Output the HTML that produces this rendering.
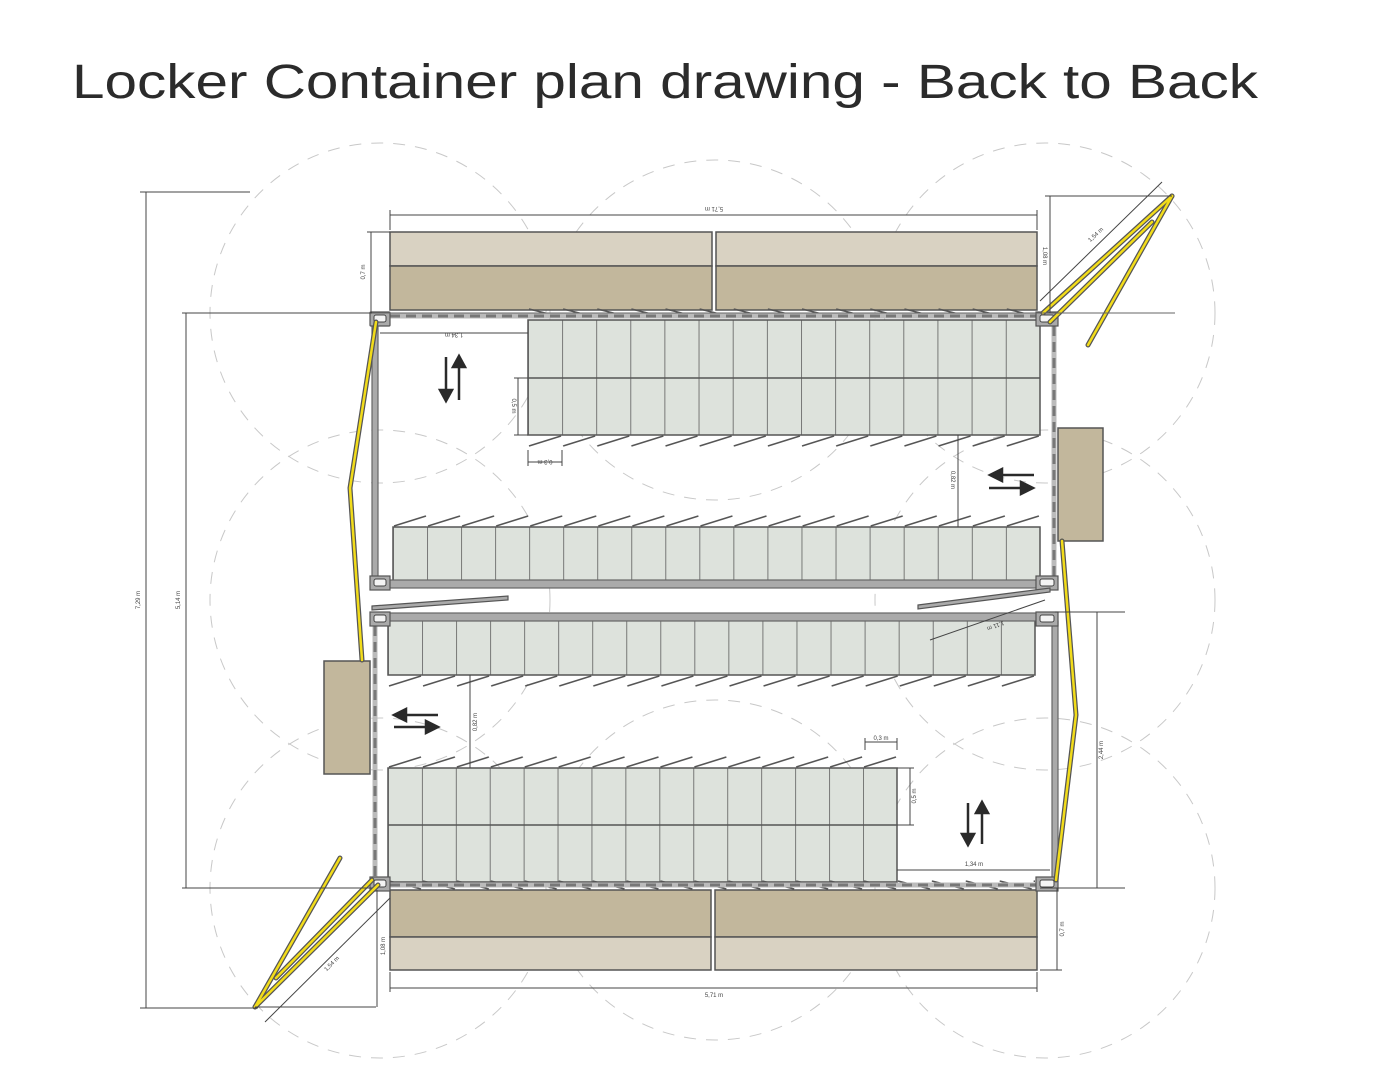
<!DOCTYPE html>
<html><head><meta charset="utf-8"><style>
html,body{margin:0;padding:0;background:#fff;width:1389px;height:1090px;overflow:hidden}
svg{display:block}
</style></head><body>
<svg width="1389" height="1090" viewBox="0 0 1389 1090" xmlns="http://www.w3.org/2000/svg">
<defs>
<pattern id="cellA" patternUnits="userSpaceOnUse" x="528" y="0" width="34.13" height="1090"><line x1="0" y1="0" x2="0" y2="1090" stroke="#555" stroke-width="1.5"/></pattern>
<pattern id="cellB" patternUnits="userSpaceOnUse" x="393" y="0" width="34.05" height="1090"><line x1="0" y1="0" x2="0" y2="1090" stroke="#555" stroke-width="1.5"/></pattern>
<pattern id="cellC" patternUnits="userSpaceOnUse" x="388" y="0" width="34.05" height="1090"><line x1="0" y1="0" x2="0" y2="1090" stroke="#555" stroke-width="1.5"/></pattern>
<pattern id="cellD" patternUnits="userSpaceOnUse" x="388" y="0" width="33.93" height="1090"><line x1="0" y1="0" x2="0" y2="1090" stroke="#555" stroke-width="1.5"/></pattern>
<pattern id="doorDn" patternUnits="userSpaceOnUse" x="528" y="435" width="34.13" height="12"><line x1="1" y1="11" x2="33" y2="1" stroke="#555" stroke-width="1.5"/></pattern>
<pattern id="doorUp" patternUnits="userSpaceOnUse" x="393" y="515" width="34.05" height="12"><line x1="1" y1="11" x2="33" y2="1" stroke="#555" stroke-width="1.5"/></pattern>
<pattern id="doorDn2" patternUnits="userSpaceOnUse" x="388" y="675" width="34.05" height="12"><line x1="1" y1="11" x2="33" y2="1" stroke="#555" stroke-width="1.5"/></pattern>
<pattern id="doorUp2" patternUnits="userSpaceOnUse" x="388" y="756" width="33.93" height="12"><line x1="1" y1="11" x2="33" y2="1" stroke="#555" stroke-width="1.5"/></pattern>
<pattern id="doorT" patternUnits="userSpaceOnUse" x="528" y="308" width="34.13" height="12"><line x1="1" y1="1" x2="33" y2="9" stroke="#555" stroke-width="1.5"/></pattern>
<pattern id="doorB" patternUnits="userSpaceOnUse" x="388" y="880" width="33.93" height="12"><line x1="1" y1="1" x2="33" y2="9" stroke="#555" stroke-width="1.5"/></pattern>
</defs>

<text x="72" y="98" font-family="Liberation Sans, sans-serif" font-size="48" fill="#2b2b2b" textLength="1186" lengthAdjust="spacingAndGlyphs">Locker Container plan drawing - Back to Back</text>

<!-- dashed circles -->
<g fill="none" stroke="#c8c8c8" stroke-width="1" stroke-dasharray="12 10">
<circle cx="380" cy="313" r="170"/>
<circle cx="1045" cy="313" r="170"/>
<circle cx="380" cy="888" r="170"/>
<circle cx="1045" cy="888" r="170"/>
<circle cx="380" cy="600" r="170"/>
<circle cx="1045" cy="600" r="170"/>
<circle cx="715" cy="330" r="170"/>
<circle cx="715" cy="870" r="170"/>
</g>

<!-- benches -->
<g stroke="#555" stroke-width="1.5">
<rect x="390" y="232" width="322" height="34" fill="#d9d2c2"/>
<rect x="390" y="266" width="322" height="44" fill="#c2b79c"/>
<rect x="716" y="232" width="321" height="34" fill="#d9d2c2"/>
<rect x="716" y="266" width="321" height="44" fill="#c2b79c"/>
<rect x="390" y="890" width="321" height="47" fill="#c2b79c"/>
<rect x="390" y="937" width="321" height="33" fill="#d9d2c2"/>
<rect x="715" y="890" width="322" height="47" fill="#c2b79c"/>
<rect x="715" y="937" width="322" height="33" fill="#d9d2c2"/>
<rect x="1058" y="428" width="45" height="113" fill="#c2b79c"/>
<rect x="324" y="661" width="46" height="113" fill="#c2b79c"/>
</g>

<!-- lockers -->
<rect x="528" y="320" width="512" height="115" fill="#dde2dc"/><rect x="528" y="320" width="512" height="115" fill="url(#cellA)"/>
<rect x="528" y="320" width="512" height="115" fill="none" stroke="#555" stroke-width="1.5"/><line x1="528" y1="378" x2="1040" y2="378" stroke="#555" stroke-width="1.5"/>
<rect x="528" y="435" width="512" height="12" fill="url(#doorDn)"/>
<rect x="528" y="308" width="512" height="12" fill="url(#doorT)"/>

<rect x="393" y="527" width="647" height="56" fill="#dde2dc"/><rect x="393" y="527" width="647" height="56" fill="url(#cellB)"/>
<rect x="393" y="527" width="647" height="56" fill="none" stroke="#555" stroke-width="1.5"/>
<rect x="393" y="515" width="647" height="12" fill="url(#doorUp)"/>

<rect x="388" y="618" width="647" height="57" fill="#dde2dc"/><rect x="388" y="618" width="647" height="57" fill="url(#cellC)"/>
<rect x="388" y="618" width="647" height="57" fill="none" stroke="#555" stroke-width="1.5"/>
<rect x="388" y="675" width="647" height="12" fill="url(#doorDn2)"/>

<rect x="388" y="768" width="509" height="114" fill="#dde2dc"/><rect x="388" y="768" width="509" height="114" fill="url(#cellD)"/>
<rect x="388" y="768" width="509" height="114" fill="none" stroke="#555" stroke-width="1.5"/><line x1="388" y1="825" x2="897" y2="825" stroke="#555" stroke-width="1.5"/>
<rect x="388" y="756" width="509" height="12" fill="url(#doorUp2)"/>
<rect x="388" y="880" width="647" height="12" fill="url(#doorB)"/>

<!-- container walls -->
<g stroke="#666" stroke-width="1.2">
<rect x="372" y="580" width="680" height="8" fill="#aaa"/>
<rect x="372" y="613" width="680" height="8" fill="#aaa"/>
<rect x="372" y="322" width="6" height="260" fill="#aaa"/>
<rect x="1052" y="621" width="6" height="258" fill="#aaa"/>
</g>
<g fill="none" stroke-width="5">
<line x1="390" y1="316" x2="1040" y2="316" stroke="#bbb"/>
<line x1="390" y1="316" x2="1040" y2="316" stroke="#777" stroke-dasharray="10 6" stroke-width="3"/>
<line x1="1054" y1="326" x2="1054" y2="578" stroke="#bbb"/>
<line x1="1054" y1="326" x2="1054" y2="578" stroke="#777" stroke-dasharray="10 6" stroke-width="3"/>
<line x1="390" y1="885" x2="1040" y2="885" stroke="#bbb"/>
<line x1="390" y1="885" x2="1040" y2="885" stroke="#777" stroke-dasharray="10 6" stroke-width="3"/>
<line x1="375" y1="626" x2="375" y2="878" stroke="#bbb"/>
<line x1="375" y1="626" x2="375" y2="878" stroke="#777" stroke-dasharray="10 6" stroke-width="3"/>
</g>
<!-- corner castings -->
<g fill="#aaa" stroke="#555" stroke-width="1.2">
<rect x="370" y="312" width="20" height="14" rx="1"/><rect x="1036" y="312" width="22" height="14"/>
<rect x="370" y="576" width="20" height="14"/><rect x="1036" y="576" width="22" height="14"/>
<rect x="370" y="612" width="20" height="14"/><rect x="1036" y="612" width="22" height="14"/>
<rect x="370" y="877" width="20" height="14"/><rect x="1036" y="877" width="22" height="14"/>
</g>
<g fill="#f4f4f4" stroke="#444" stroke-width="1">
<rect x="374" y="315" width="12" height="7" rx="2"/><rect x="1040" y="315" width="14" height="7" rx="2"/>
<rect x="374" y="579" width="12" height="7" rx="2"/><rect x="1040" y="579" width="14" height="7" rx="2"/>
<rect x="374" y="615" width="12" height="7" rx="2"/><rect x="1040" y="615" width="14" height="7" rx="2"/>
<rect x="374" y="880" width="12" height="7" rx="2"/><rect x="1040" y="880" width="14" height="7" rx="2"/>
</g>
<!-- slanted door panels between containers -->
<g stroke="#555" stroke-width="1.2" fill="#aaa">
<polygon points="372,606 508,596 508,600 372,610"/>
<polygon points="918,605 1050,588 1050,592 918,609"/>
</g>

<!-- yellow fences -->
<g fill="none" stroke-linecap="round">
<g stroke="#555" stroke-width="5">
<polyline points="376,322 350,488 362,660"/>
<polyline points="1062,541 1076,715 1056,880"/>
<line x1="1043" y1="313" x2="1172" y2="196"/><line x1="1050" y1="322" x2="1152" y2="222"/><line x1="1172" y1="196" x2="1088" y2="345"/>
<line x1="378" y1="885" x2="255" y2="1007"/><line x1="372" y1="880" x2="276" y2="978"/><line x1="255" y1="1007" x2="340" y2="858"/>
</g>
<g stroke="#f2dc1a" stroke-width="2.5">
<polyline points="376,322 350,488 362,660"/>
<polyline points="1062,541 1076,715 1056,880"/>
<line x1="1043" y1="313" x2="1172" y2="196"/><line x1="1050" y1="322" x2="1152" y2="222"/><line x1="1172" y1="196" x2="1088" y2="345"/>
<line x1="378" y1="885" x2="255" y2="1007"/><line x1="372" y1="880" x2="276" y2="978"/><line x1="255" y1="1007" x2="340" y2="858"/>
</g>
</g>

<!-- dimension lines -->
<g stroke="#444" stroke-width="1" fill="none">
<line x1="140" y1="192" x2="250" y2="192"/><line x1="140" y1="1008" x2="258" y2="1008"/>
<line x1="146" y1="192" x2="146" y2="1008"/>
<line x1="182" y1="313" x2="372" y2="313"/><line x1="182" y1="888" x2="372" y2="888"/>
<line x1="186" y1="313" x2="186" y2="888"/>
<line x1="372" y1="313" x2="1175" y2="313" stroke="#666"/>
<line x1="252" y1="888" x2="372" y2="888"/><line x1="1040" y1="888" x2="1125" y2="888"/>
<line x1="390" y1="210" x2="390" y2="230"/><line x1="1037" y1="210" x2="1037" y2="230"/>
<line x1="390" y1="215" x2="1037" y2="215"/>
<line x1="390" y1="972" x2="390" y2="992"/><line x1="1037" y1="972" x2="1037" y2="992"/>
<line x1="390" y1="988" x2="1037" y2="988"/>
<line x1="367" y1="232" x2="390" y2="232"/><line x1="371" y1="232" x2="371" y2="313"/>
<line x1="1040" y1="970" x2="1062" y2="970"/><line x1="1057" y1="888" x2="1057" y2="970"/>
<line x1="1045" y1="196" x2="1172" y2="196"/><line x1="1050" y1="196" x2="1050" y2="313"/>
<line x1="1040" y1="301" x2="1162" y2="182"/>
<line x1="376" y1="1007" x2="255" y2="1007"/><line x1="377" y1="890" x2="377" y2="1007"/>
<line x1="265" y1="1022" x2="390" y2="898"/>
<line x1="1055" y1="612" x2="1125" y2="612"/><line x1="1097" y1="612" x2="1097" y2="888"/>
<line x1="380" y1="333" x2="528" y2="333"/>
<line x1="518" y1="378" x2="518" y2="435"/><line x1="514" y1="378" x2="528" y2="378"/><line x1="514" y1="435" x2="528" y2="435"/>
<line x1="528" y1="462" x2="562" y2="462"/><line x1="528" y1="450" x2="528" y2="466"/><line x1="562" y1="450" x2="562" y2="466"/>
<line x1="958" y1="435" x2="958" y2="527"/>
<line x1="470" y1="675" x2="470" y2="768"/>
<line x1="865" y1="742" x2="897" y2="742"/><line x1="865" y1="738" x2="865" y2="750"/><line x1="897" y1="738" x2="897" y2="750"/>
<line x1="910" y1="768" x2="910" y2="825"/><line x1="897" y1="768" x2="914" y2="768"/><line x1="897" y1="825" x2="914" y2="825"/>
<line x1="897" y1="870" x2="1050" y2="870"/>
<line x1="930" y1="640" x2="1045" y2="600"/>
</g>
<g font-family="Liberation Sans, sans-serif" font-size="6" fill="#444" text-anchor="middle">
<text transform="translate(140,600) rotate(-90)">7,29 m</text>
<text transform="translate(180,600) rotate(-90)">5,14 m</text>
<text x="714" y="211" transform="rotate(180 714 209)">5,71 m</text>
<text x="714" y="997">5,71 m</text>
<text transform="translate(365,272) rotate(-90)">0,7 m</text>
<text transform="translate(1064,929) rotate(-90)">0,7 m</text>
<text transform="translate(1103,750) rotate(-90)">2,44 m</text>
<text transform="translate(1043,256) rotate(90)">1,08 m</text>
<text transform="translate(385,946) rotate(-90)">1,08 m</text>
<text transform="translate(1097,236) rotate(-43)">1,54 m</text>
<text transform="translate(333,965) rotate(-45)">1,54 m</text>
<text x="454" y="337" transform="rotate(180 454 335)">1,34 m</text>
<text x="974" y="866">1,34 m</text>
<text transform="translate(512,406) rotate(90)">0,5 m</text>
<text x="545" y="464" transform="rotate(180 545 462)">0,3 m</text>
<text x="881" y="740">0,3 m</text>
<text transform="translate(916,796) rotate(-90)">0,5 m</text>
<text transform="translate(951,480) rotate(90)">0,82 m</text>
<text transform="translate(477,722) rotate(-90)">0,82 m</text>
<text transform="translate(995,624) rotate(160)">1,11 m</text>
</g>

<!-- traffic arrows -->
<g stroke="#2a2a2a" stroke-width="2.5" fill="#2a2a2a">
<line x1="446" y1="357" x2="446" y2="392"/><polygon points="440,390 452,390 446,401"/>
<line x1="459" y1="400" x2="459" y2="365"/><polygon points="453,367 465,367 459,356"/>
<line x1="1034" y1="475" x2="1000" y2="475"/><polygon points="1002,469 1002,481 990,475"/>
<line x1="989" y1="488" x2="1023" y2="488"/><polygon points="1021,482 1021,494 1033,488"/>
<line x1="438" y1="715" x2="404" y2="715"/><polygon points="406,709 406,721 394,715"/>
<line x1="394" y1="727" x2="428" y2="727"/><polygon points="426,721 426,733 438,727"/>
<line x1="968" y1="803" x2="968" y2="836"/><polygon points="962,834 974,834 968,845"/>
<line x1="982" y1="844" x2="982" y2="811"/><polygon points="976,813 988,813 982,802"/>
</g>
</svg>
</body></html>
